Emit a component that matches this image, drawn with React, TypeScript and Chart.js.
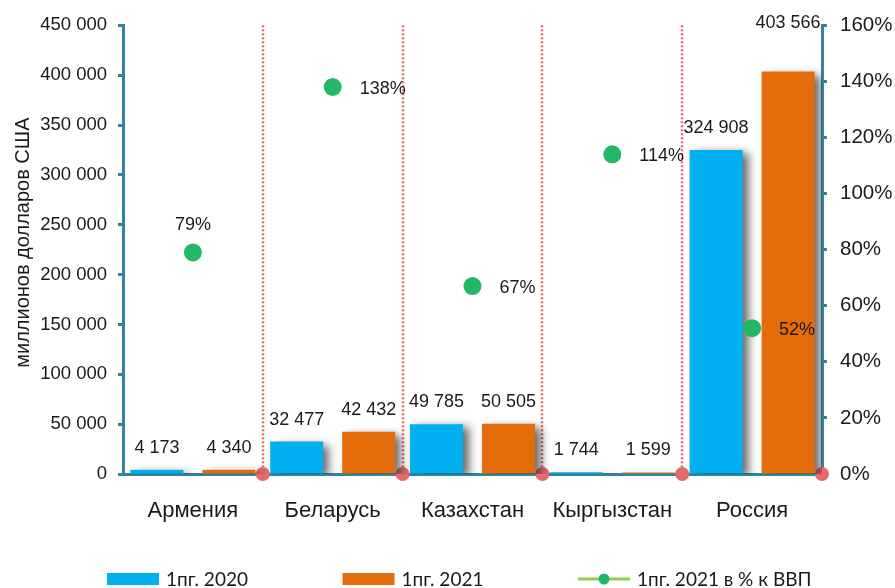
import React, { useEffect, useRef } from 'react';
import { Chart, registerables } from 'chart.js';

Chart.register(...registerables);

// ---------- data ----------
const categories = ['Армения', 'Беларусь', 'Казахстан', 'Кыргызстан', 'Россия'];
const values2020 = [4173, 32477, 49785, 1744, 324908];
const values2021 = [4340, 42432, 50505, 1599, 403566];
const gdpShare2021 = [79, 138, 67, 114, 52];
const seriesNames = ['1пг. 2020', '1пг. 2021', '1пг. 2021 в % к ВВП'];
const yTitle = 'миллионов долларов США';
const leftMax = 450000;
const leftStep = 50000;
const rightMax = 160;
const rightStep = 20;

// ---------- styles ----------
const FONT = "'Liberation Sans', Arial, sans-serif";
const LEGEND_FONT = "Lato, 'Liberation Sans', sans-serif";
const TEXT = '#1a1a1a';
const TEAL = '#31849B';
const CYAN = '#00B0F0';
const ORANGE = '#E46C0A';
const GREEN = '#24B766';
const LIGHT_GREEN = '#92D050';
const RED = '#E36B6B';
const pointLabelSide = ['top', 'right', 'right', 'right', 'right'];
const extraLift2021 = [0, 0, 0, 0, 27];

const fmt = (n: number) => String(n).replace(/\B(?=(\d{3})+(?!\d))/g, ' ');

const dividerPlugin = {
  id: 'dividers',
  beforeDatasetsDraw(chart: any) {
    const { ctx, chartArea } = chart;
    const x = chart.scales.x;
    const n = categories.length;
    const xs: number[] = [];
    for (let i = 0; i < n - 1; i++) {
      xs.push((x.getPixelForValue(i) + x.getPixelForValue(i + 1)) / 2);
    }
    ctx.save();
    ctx.strokeStyle = RED;
    ctx.lineWidth = 2.5;
    ctx.setLineDash([2, 2]);
    xs.forEach((px) => {
      ctx.beginPath();
      ctx.moveTo(Math.round(px), chartArea.top);
      ctx.lineTo(Math.round(px), chartArea.bottom);
      ctx.stroke();
    });
    ctx.setLineDash([]);
    ctx.fillStyle = RED;
    [...xs, chartArea.right].forEach((px) => {
      ctx.beginPath();
      ctx.arc(px, chartArea.bottom, 7, 0, Math.PI * 2);
      ctx.fill();
    });
    ctx.restore();
  },
};

const shadowPlugin = {
  id: 'barShadow',
  beforeDatasetDraw(chart: any, args: any) {
    if (args.meta.type !== 'bar') return;
    const ctx = chart.ctx;
    ctx.save();
    ctx.shadowColor = 'rgba(0,0,0,0.6)';
    ctx.shadowBlur = 9;
    ctx.shadowOffsetX = 6;
    ctx.shadowOffsetY = 3;
  },
  afterDatasetDraw(chart: any, args: any) {
    if (args.meta.type !== 'bar') return;
    chart.ctx.restore();
  },
};

const labelPlugin = {
  id: 'valueLabels',
  afterDatasetsDraw(chart: any) {
    const { ctx } = chart;
    ctx.save();
    ctx.fillStyle = TEXT;
    ctx.font = `18px ${FONT}`;
    ctx.textBaseline = 'middle';
    [0, 1].forEach((d) => {
      const meta = chart.getDatasetMeta(d);
      const vals = d === 0 ? values2020 : values2021;
      meta.data.forEach((el: any, i: number) => {
        ctx.textAlign = 'center';
        const lift = 22 + (d === 1 ? extraLift2021[i] : 0);
        ctx.fillText(fmt(vals[i]), el.x, el.y - lift);
      });
    });
    const pm = chart.getDatasetMeta(2);
    pm.data.forEach((el: any, i: number) => {
      const t = gdpShare2021[i] + '%';
      if (pointLabelSide[i] === 'top') {
        ctx.textAlign = 'center';
        ctx.fillText(t, el.x, el.y - 27);
      } else {
        ctx.textAlign = 'left';
        ctx.fillText(t, el.x + 27, el.y + 2);
      }
    });
    ctx.restore();
  },
};

const titlePlugin = {
  id: 'yTitle',
  afterDraw(chart: any) {
    const { ctx, chartArea } = chart;
    ctx.save();
    ctx.translate(23, (chartArea.top + chartArea.bottom) / 2 - 7);
    ctx.rotate(-Math.PI / 2);
    ctx.textAlign = 'center';
    ctx.textBaseline = 'middle';
    ctx.fillStyle = TEXT;
    ctx.font = `20px ${FONT}`;
    ctx.fillText(yTitle, 0, 0);
    ctx.restore();
  },
};

const legendPlugin = {
  id: 'customLegend',
  afterDraw(chart: any) {
    const { ctx } = chart;
    const y = 579;
    const startX = 107;
    const step = 235.5;
    ctx.save();
    ctx.textBaseline = 'middle';
    ctx.textAlign = 'left';
    seriesNames.forEach((name, i) => {
      const x0 = startX + i * step;
      if (i < 2) {
        ctx.fillStyle = i === 0 ? CYAN : ORANGE;
        ctx.fillRect(x0, y - 6, 52, 12);
      } else {
        ctx.strokeStyle = LIGHT_GREEN;
        ctx.lineWidth = 3;
        ctx.beginPath();
        ctx.moveTo(x0, y);
        ctx.lineTo(x0 + 52, y);
        ctx.stroke();
        ctx.fillStyle = GREEN;
        ctx.beginPath();
        ctx.arc(x0 + 26, y, 5.5, 0, Math.PI * 2);
        ctx.fill();
      }
      ctx.fillStyle = TEXT;
      ctx.font = `19px ${LEGEND_FONT}`;
      ctx.fillText(name, x0 + 59, y + 1);
    });
    ctx.restore();
  },
};

export default function App() {
  const ref = useRef<HTMLCanvasElement | null>(null);

  useEffect(() => {
    if (!ref.current) return;
    const chart = new Chart(ref.current, {
      type: 'bar',
      data: {
        labels: categories,
        datasets: [
          {
            type: 'bar',
            label: seriesNames[0],
            data: values2020,
            backgroundColor: CYAN,
            yAxisID: 'y',
            categoryPercentage: 1.03,
            barPercentage: 0.736,
            order: 2,
          },
          {
            type: 'bar',
            label: seriesNames[1],
            data: values2021,
            backgroundColor: ORANGE,
            yAxisID: 'y',
            categoryPercentage: 1.03,
            barPercentage: 0.736,
            order: 2,
          },
          {
            type: 'line',
            label: seriesNames[2],
            data: gdpShare2021,
            yAxisID: 'y1',
            showLine: false,
            pointRadius: 9,
            pointBackgroundColor: GREEN,
            pointBorderWidth: 0,
            borderColor: GREEN,
            order: 1,
          },
        ],
      } as any,
      options: {
        responsive: false,
        animation: false,
        layout: { padding: { top: 25, bottom: 64, left: 0, right: 0 } },
        plugins: {
          legend: { display: false },
          tooltip: { enabled: false },
        },
        scales: {
          x: {
            type: 'category',
            offset: true,
            z: 1,
            grid: { display: false },
            border: { display: true, color: TEAL, width: 3 },
            ticks: { color: TEXT, font: { family: FONT, size: 22 }, padding: 16 },
            afterFit: (s: any) => { s.height = 50; },
          },
          y: {
            position: 'left',
            min: 0,
            max: leftMax,
            z: 1,
            ticks: { stepSize: leftStep, callback: (v: any) => fmt(Number(v)), color: TEXT, font: { family: FONT, size: 18.5 }, padding: 11 },
            grid: { drawOnChartArea: false, drawTicks: true, tickLength: 5, tickWidth: 3, tickColor: TEAL },
            border: { display: true, color: TEAL, width: 3 },
            afterFit: (s: any) => { s.width = 123; },
          },
          y1: {
            position: 'right',
            min: 0,
            max: rightMax,
            z: 1,
            ticks: { stepSize: rightStep, callback: (v: any) => v + '%', color: TEXT, font: { family: FONT, size: 20.5 }, padding: 13 },
            grid: { drawOnChartArea: false, drawTicks: true, tickLength: 5, tickWidth: 3, tickColor: TEAL },
            border: { display: true, color: TEAL, width: 3 },
            afterFit: (s: any) => { s.width = 73; },
          },
        },
      } as any,
      plugins: [dividerPlugin, shadowPlugin, labelPlugin, titlePlugin, legendPlugin],
    });
    return () => chart.destroy();
  }, []);

  return (
    <div style={{ position: 'absolute', left: 0, top: 0, width: 895, height: 588, background: '#fff' }}>
      <canvas ref={ref} width={895} height={588} />
    </div>
  );
}
